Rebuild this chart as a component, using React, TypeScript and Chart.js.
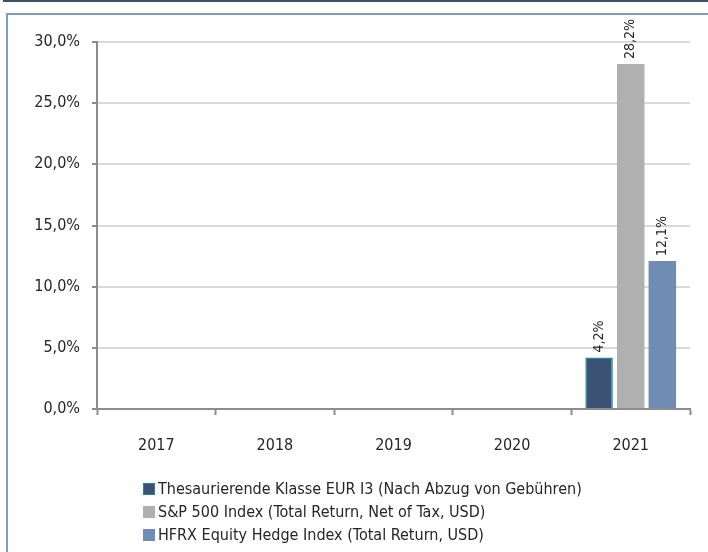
import React, { useEffect, useRef } from "react";
import { Chart, registerables } from "chart.js";

Chart.register(...registerables);

const categories = ["2017", "2018", "2019", "2020", "2021"];
const seriesNames = [
  "Thesaurierende Klasse EUR I3 (Nach Abzug von Gebühren)",
  "S&P 500 Index (Total Return, Net of Tax, USD)",
  "HFRX Equity Hedge Index (Total Return, USD)",
];
const fundValues: (number | null)[] = [null, null, null, null, 4.2];
const spValues: (number | null)[] = [null, null, null, null, 28.2];
const hfrxValues: (number | null)[] = [null, null, null, null, 12.1];
const yTicks = [0, 5, 10, 15, 20, 25, 30];

const fillColors = ["#3b5274", "#b0b0b0", "#6f8db4"];
const borderColors = ["#1f86a3", "#b0b0b0", "#6f8db4"];

const FONT = "'DejaVu Sans Condensed', 'DejaVu Sans', sans-serif";

const fmt = (v: number) => v.toFixed(1).replace(".", ",") + "%";

const labelPlugin = {
  id: "barLabels",
  afterDatasetsDraw(chart: any) {
    const ctx = chart.ctx;
    ctx.save();
    ctx.font = `14px ${FONT}`;
    ctx.fillStyle = "#262626";
    ctx.textAlign = "left";
    ctx.textBaseline = "middle";
    chart.data.datasets.forEach((ds: any, di: number) => {
      const meta = chart.getDatasetMeta(di);
      meta.data.forEach((bar: any, i: number) => {
        const v = ds.data[i];
        if (v === null || v === undefined) return;
        ctx.save();
        ctx.translate(bar.x, bar.y - 5);
        ctx.rotate(-Math.PI / 2);
        ctx.fillText(fmt(v), 0, 0);
        ctx.restore();
      });
    });
    ctx.restore();
  },
};

export default function App() {
  const ref = useRef<HTMLCanvasElement>(null);
  useEffect(() => {
    document.body.style.margin = "0";
    const chart = new Chart(ref.current!, {
      type: "bar",
      data: {
        labels: categories,
        datasets: [fundValues, spValues, hfrxValues].map((d, i) => ({
          label: seriesNames[i],
          data: d,
          backgroundColor: fillColors[i],
          borderColor: borderColors[i],
          borderWidth: i === 0 ? 1.5 : 0,
          categoryPercentage: 0.8,
          barPercentage: 0.87,
        })),
      },
      options: {
        responsive: false,
        animation: false,
        layout: { padding: { top: 42, left: 0, right: 18, bottom: 0 } },
        plugins: { legend: { display: false }, tooltip: { enabled: false } },
        scales: {
          x: {
            afterFit: (s: any) => {
              s.height = 143;
            },
            grid: {
              offset: true,
              drawOnChartArea: false,
              drawTicks: true,
              tickLength: 6,
              tickColor: "#8c8c8c",
              tickWidth: 2,
            },
            border: { color: "#8c8c8c", width: 2 },
            ticks: {
              color: "#262626",
              font: { size: 16, family: FONT },
              padding: 21,
              maxRotation: 0,
            },
          },
          y: {
            min: 0,
            max: 30,
            afterFit: (s: any) => {
              s.width = 97;
            },
            afterBuildTicks: (s: any) => {
              s.ticks = yTicks.map((v) => ({ value: v }));
            },
            grid: {
              color: "#d9d9d9",
              lineWidth: 2,
              drawTicks: true,
              tickLength: 5,
              tickColor: "#8c8c8c",
              tickWidth: 2,
            },
            border: { color: "#8c8c8c", width: 2 },
            ticks: {
              color: "#262626",
              font: { size: 16, family: FONT },
              padding: 12,
              callback: (v: any) => fmt(Number(v)),
            },
          },
        },
      },
      plugins: [labelPlugin],
    });
    return () => chart.destroy();
  }, []);

  return (
    <div
      style={{
        position: "relative",
        width: 708,
        height: 552,
        overflow: "hidden",
        background: "#fff",
        fontFamily: FONT,
      }}
    >
      <div
        style={{
          position: "absolute",
          left: 3,
          top: 0,
          width: 705,
          height: 2,
          background: "#3e5068",
        }}
      />
      <div
        style={{
          position: "absolute",
          left: 6,
          top: 13,
          width: 800,
          height: 700,
          borderLeft: "2px solid #7b9cc3",
          borderTop: "2px solid #7b9cc3",
        }}
      />
      <canvas
        ref={ref}
        width={708}
        height={552}
        style={{ position: "absolute", left: 0, top: 0 }}
      />
      <div
        style={{
          position: "absolute",
          left: 143,
          top: 477,
          fontSize: 16,
          color: "#262626",
          lineHeight: "23px",
        }}
      >
        {seriesNames.map((n, i) => (
          <div key={n} style={{ display: "flex", alignItems: "center", whiteSpace: "nowrap" }}>
            <span
              style={{
                display: "inline-block",
                width: 12,
                height: 12,
                flex: "none",
                boxSizing: "border-box",
                background: fillColors[i],
                border: i === 0 ? `1.5px solid ${borderColors[0]}` : "none",
                marginRight: 3,
              }}
            />
            {n}
          </div>
        ))}
      </div>
    </div>
  );
}
